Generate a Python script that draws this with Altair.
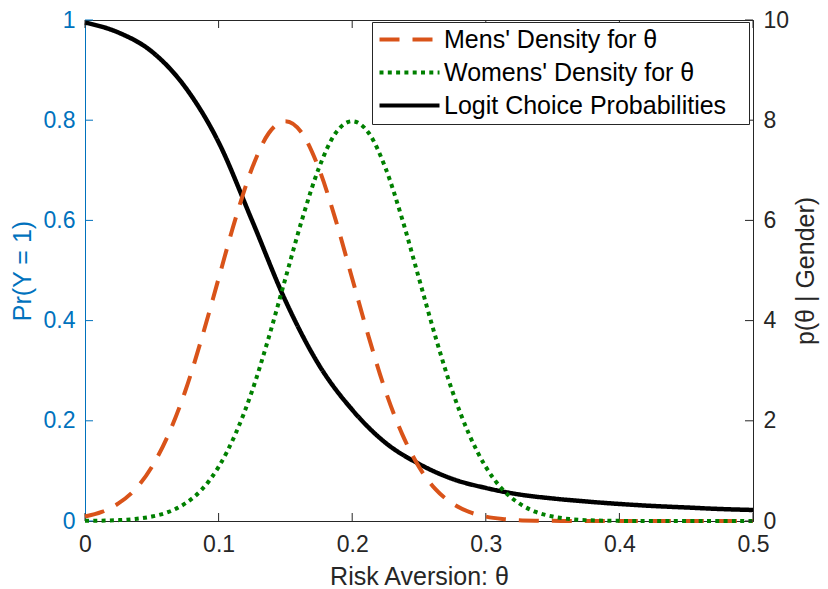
import altair as alt
import pandas as pd

# ---------------- data ----------------
theta_logit = [0.0, 0.025, 0.05, 0.075, 0.1, 0.125, 0.15, 0.175, 0.2, 0.225,
               0.25, 0.275, 0.3, 0.325, 0.35, 0.375, 0.4, 0.425, 0.45, 0.475, 0.5]
logit_prob = [0.995, 0.975, 0.937, 0.866, 0.756, 0.600, 0.440, 0.312, 0.222, 0.156,
              0.114, 0.084, 0.066, 0.053, 0.045, 0.039, 0.034, 0.030, 0.027, 0.024, 0.022]

theta_dens = [0.0, 0.0125, 0.025, 0.0375, 0.05, 0.0625, 0.075, 0.0875, 0.1, 0.1125,
              0.125, 0.1375, 0.15, 0.1625, 0.175, 0.1875, 0.2, 0.2125, 0.225, 0.2375,
              0.25, 0.2625, 0.275, 0.2875, 0.3, 0.3125, 0.325, 0.3375, 0.35, 0.3625,
              0.375, 0.3875, 0.4, 0.4125, 0.425, 0.4375, 0.45, 0.4625, 0.475, 0.4875, 0.5]
men_density = [0.089, 0.18, 0.35, 0.63, 1.08, 1.73, 2.59, 3.66, 4.84, 6.02,
               7.04, 7.74, 7.98, 7.74, 7.04, 6.02, 4.84, 3.66, 2.59, 1.73,
               1.08, 0.63, 0.35, 0.18, 0.089, 0.04, 0.017, 0.007, 0.003, 0.001,
               0.0, 0.0, 0.0, 0.0, 0.0, 0.0, 0.0, 0.0, 0.0, 0.0, 0.0]
women_density = [0.003, 0.007, 0.017, 0.04, 0.089, 0.18, 0.35, 0.63, 1.08, 1.73,
                 2.59, 3.66, 4.84, 6.02, 7.04, 7.74, 7.98, 7.74, 7.04, 6.02,
                 4.84, 3.66, 2.59, 1.73, 1.08, 0.63, 0.35, 0.18, 0.089, 0.04,
                 0.017, 0.007, 0.003, 0.001, 0.0, 0.0, 0.0, 0.0, 0.0, 0.0, 0.0]

series_names = ["Mens' Density for θ", "Womens' Density for θ", "Logit Choice Probabilities"]
series_colors = ["#D95319", "#008000", "#000000"]
series_dash = [[20, 13], [4, 4.3], [1, 0]]

x_ticks = [0, 0.1, 0.2, 0.3, 0.4, 0.5]
left_ticks = [0, 0.2, 0.4, 0.6, 0.8, 1]
right_ticks = [0, 2, 4, 6, 8, 10]

# ---------------- tables ----------------
logit_df = pd.DataFrame({"theta": theta_logit, "value": logit_prob, "series": series_names[2]})
dens_df = pd.concat([
    pd.DataFrame({"theta": theta_dens, "value": men_density, "series": series_names[0], "order": 0}),
    pd.DataFrame({"theta": theta_dens, "value": women_density, "series": series_names[1], "order": 1}),
])
xt_df = pd.DataFrame({"theta": x_ticks})
lt_df = pd.DataFrame({"value": left_ticks})
rt_df = pd.DataFrame({"value": right_ticks})

W, H = 668, 501
BLUE = "#0072BD"
DARK = "#262626"
FONT = "Liberation Sans"
BLANK_TITLE = "\u00a0"

x_enc = alt.X("theta:Q",
              scale=alt.Scale(domain=[0, 0.5], nice=False, zero=False),
              axis=alt.Axis(values=x_ticks, format="~g", title="Risk Aversion: θ",
                            ticks=False, grid=False, labelPadding=12, titlePadding=8,
                            labelFlush=False,
                            labelFontSize=23, titleFontSize=25, labelColor=DARK,
                            titleColor=DARK, domainColor=DARK, titleFontWeight="normal"))

color_enc = alt.Color("series:N",
                      scale=alt.Scale(domain=series_names, range=series_colors),
                      legend=alt.Legend(title=BLANK_TITLE, titleOrient="right"))
dash_enc = alt.StrokeDash("series:N",
                          scale=alt.Scale(domain=series_names, range=series_dash),
                          legend=alt.Legend(title=BLANK_TITLE, titleOrient="right"))

left_y = alt.Y("value:Q",
               scale=alt.Scale(domain=[0, 1], nice=False),
               axis=alt.Axis(values=left_ticks, format="~g", title="Pr(Y = 1)",
                             orient="left", ticks=False, grid=False, labelPadding=10,
                             titlePadding=8, labelFontSize=23, titleFontSize=25,
                             labelColor=BLUE, titleColor=BLUE, domainColor=BLUE,
                             titleFontWeight="normal"))

right_y = alt.Y("value:Q",
                scale=alt.Scale(domain=[0, 10], nice=False),
                axis=alt.Axis(values=right_ticks, format="d", title="p(θ | Gender)",
                              orient="right", ticks=False, grid=False, labelPadding=10,
                              titlePadding=30, labelFontSize=23, titleFontSize=25,
                              labelColor=DARK, titleColor=DARK, domainColor=DARK,
                              titleAngle=270, titleFontWeight="normal"))

logit_line = alt.Chart(logit_df).mark_line(strokeWidth=4.5, interpolate="monotone").encode(
    x=x_enc, y=left_y, color=color_enc, strokeDash=dash_enc)

left_tick_marks = alt.Chart(lt_df).mark_rule(color=BLUE, strokeWidth=1).encode(
    y=alt.Y("value:Q"), x=alt.value(0), x2=alt.value(8))
x_tick_bottom = alt.Chart(xt_df).mark_rule(color=DARK, strokeWidth=1).encode(
    x=alt.X("theta:Q"), y=alt.value(H - 8), y2=alt.value(H))
x_tick_top = alt.Chart(xt_df).mark_rule(color=DARK, strokeWidth=1).encode(
    x=alt.X("theta:Q"), y=alt.value(0), y2=alt.value(8))

left_group = alt.layer(logit_line, left_tick_marks, x_tick_bottom, x_tick_top)

dens_lines = alt.Chart(dens_df).mark_line(strokeWidth=4, interpolate="monotone",
                                          strokeCap="butt").encode(
    x=alt.X("theta:Q"), y=right_y, color=color_enc, strokeDash=dash_enc,
    detail="series:N", order="order:Q")

right_tick_marks = alt.Chart(rt_df).mark_rule(color=DARK, strokeWidth=1).encode(
    y=alt.Y("value:Q"), x=alt.value(W - 8), x2=alt.value(W))

right_group = alt.layer(dens_lines, right_tick_marks)

chart = alt.layer(left_group, right_group).resolve_scale(
    y="independent"
).properties(
    width=W, height=H,
    autosize=alt.AutoSizeParams(type="none"),
    padding={"left": 77, "top": 12, "right": 67, "bottom": 68},
).configure(
    font=FONT,
).configure_view(
    stroke=DARK, strokeWidth=1,
).configure_legend(
    orient="none", legendX=287, legendY=2,
    symbolType="M-1,0H5", symbolSize=400, symbolStrokeWidth=4,
    labelFontSize=25, labelFont=FONT, labelColor="#000000", labelOffset=42,
    titleFontSize=10, titlePadding=18,
    padding=5, rowPadding=7, strokeColor=DARK, fillColor="white", cornerRadius=0,
    labelLimit=400,
)

chart.save("out.html", embed_options={"renderer": "svg", "actions": False})
